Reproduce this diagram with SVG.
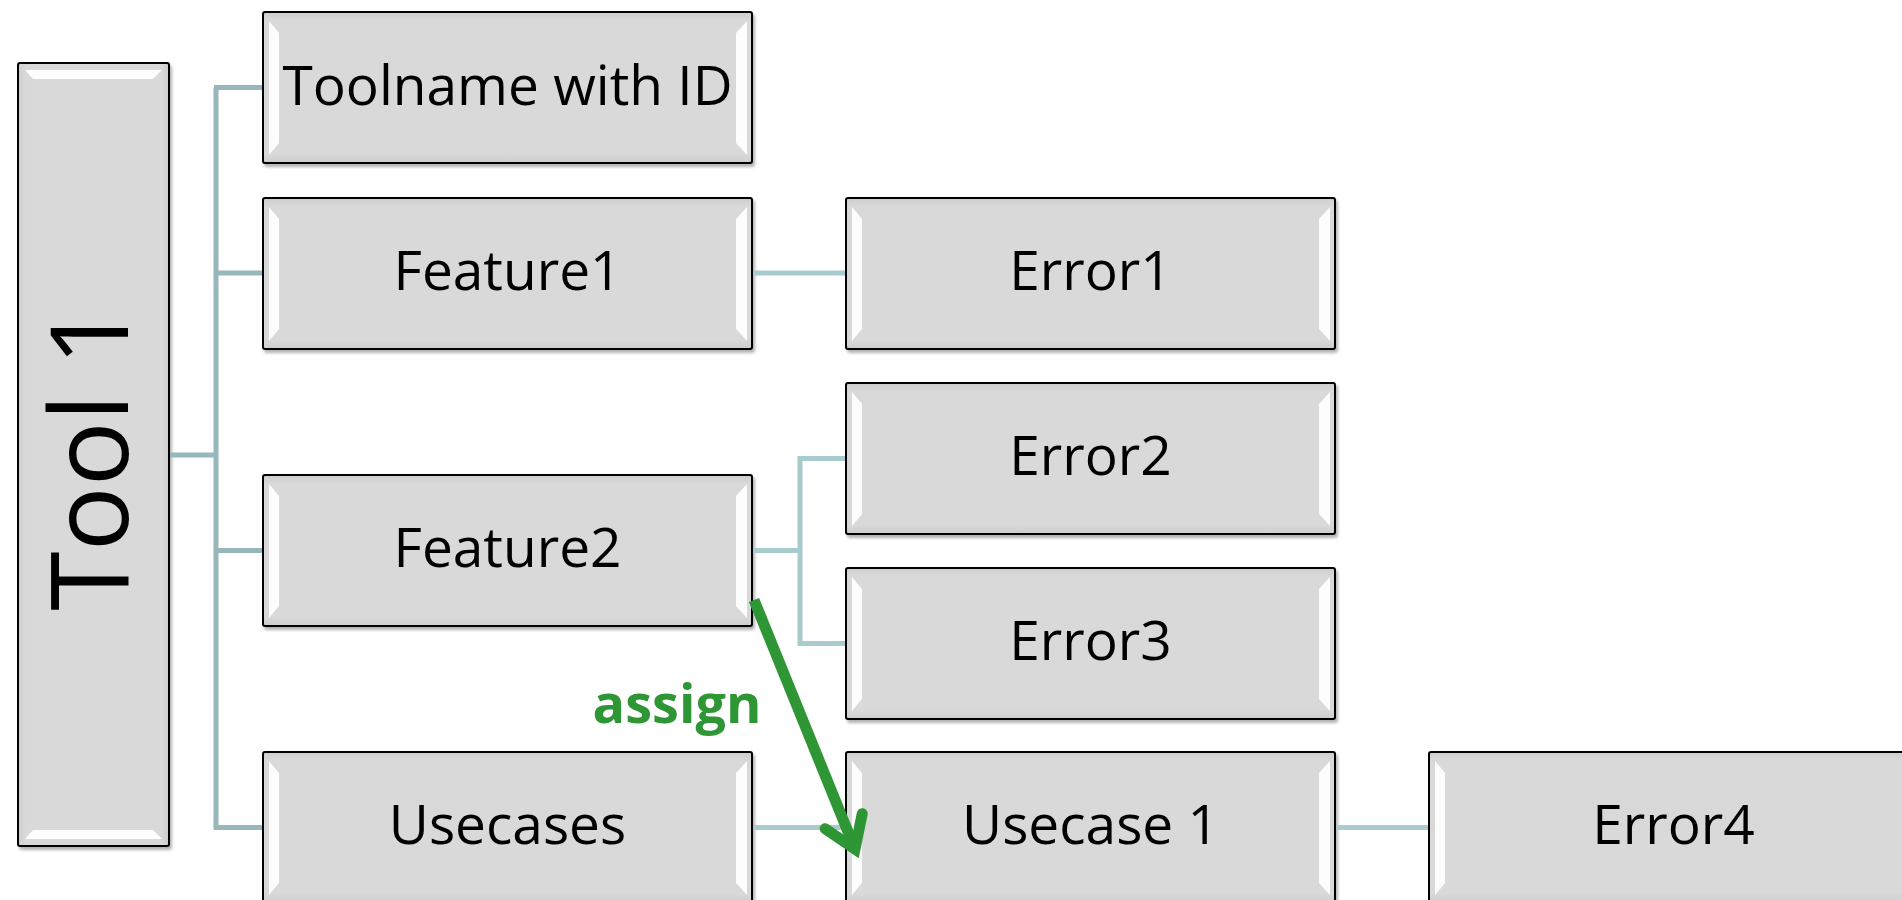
<svg xmlns="http://www.w3.org/2000/svg" width="1902" height="900" viewBox="0 0 1902 900">
  <defs>
    <linearGradient id="faceV" x1="0" y1="0" x2="0" y2="1">
      <stop offset="0" stop-color="#cdcdcd"/>
      <stop offset="0.06" stop-color="#d9d9d9"/>
      <stop offset="0.94" stop-color="#d9d9d9"/>
      <stop offset="1" stop-color="#cdcdcd"/>
    </linearGradient>
    <linearGradient id="faceH" x1="0" y1="0" x2="1" y2="0">
      <stop offset="0" stop-color="#cdcdcd"/>
      <stop offset="0.05" stop-color="#d9d9d9"/>
      <stop offset="0.95" stop-color="#d9d9d9"/>
      <stop offset="1" stop-color="#cdcdcd"/>
    </linearGradient>
    <filter id="shadow" x="-5%" y="-5%" width="115%" height="115%">
      <feGaussianBlur in="SourceAlpha" stdDeviation="1.6"/>
      <feOffset dx="2" dy="3" result="b"/>
      <feComponentTransfer><feFuncA type="linear" slope="0.3"/></feComponentTransfer>
      <feMerge><feMergeNode/><feMergeNode in="SourceGraphic"/></feMerge>
    </filter>
    <marker id="chevron" markerUnits="userSpaceOnUse" viewBox="-40 -30 50 60" refX="0" refY="0" markerWidth="50" markerHeight="60" orient="auto" overflow="visible">
      <path d="M-30,-20 L0,0 L-30,20" fill="none" stroke="#2e9634" stroke-width="11" stroke-linejoin="miter" stroke-linecap="round"/>
    </marker>
  </defs>
  <style>
    .box { fill: url(#faceV); stroke: #000; stroke-width: 2px; filter: url(#shadow); }
    .boxv { fill: url(#faceH); stroke: #000; stroke-width: 2px; filter: url(#shadow); }
    .hl { fill: #ffffff; opacity: 0.95; }
    .lbl { font-family: "Open Sans", Lato, "Liberation Sans", sans-serif; font-size: 55px; fill: #000; text-anchor: middle; }
    .big { font-size: 108px; }
    .c1 { stroke: #98b7bb; stroke-width: 5px; fill: none; }
    .c2 { stroke: #a8cbcd; stroke-width: 5px; fill: none; }
    .assign { stroke: #2e9634; stroke-width: 11px; fill: none; }
    .assign-lbl { font-family: "Open Sans", Lato, "Liberation Sans", sans-serif; font-size: 54px; font-weight: bold; fill: #2e9634; text-anchor: middle; }
  </style>

  <!-- root: Tool 1 -->
  <g id="tool1">
    <rect class="boxv" x="18" y="63" width="151" height="783" rx="2"/>
    <polygon class="hl" points="25,70 162,70 153,79 33,79"/>
    <polygon class="hl" points="25,839 162,839 153,830 33,830"/>
    <text class="lbl big" transform="translate(128,457.5) rotate(-90)" x="0" y="0">Tool 1</text>
  </g>

  <!-- level 1 -->
  <g id="toolname">
    <rect class="box" x="263" y="12" width="489" height="151" rx="2"/>
    <polygon class="hl" points="269,21 279,33 279,143 269,155"/>
    <polygon class="hl" points="747,21 736,33 736,143 747,155"/>
    <text class="lbl" x="507.5" y="105">Toolname with ID</text>
  </g>
  <g id="feature1">
    <rect class="box" x="263" y="198" width="489" height="151" rx="2"/>
    <polygon class="hl" points="269,207 279,219 279,329 269,341"/>
    <polygon class="hl" points="747,207 736,219 736,329 747,341"/>
    <text class="lbl" x="507.5" y="290">Feature1</text>
  </g>
  <g id="feature2">
    <rect class="box" x="263" y="475" width="489" height="151" rx="2"/>
    <polygon class="hl" points="269,484 279,496 279,606 269,618"/>
    <polygon class="hl" points="747,484 736,496 736,606 747,618"/>
    <text class="lbl" x="507.5" y="567">Feature2</text>
  </g>
  <g id="usecases">
    <rect class="box" x="263" y="752" width="489" height="151" rx="2"/>
    <polygon class="hl" points="269,761 279,773 279,883 269,895"/>
    <polygon class="hl" points="747,761 736,773 736,883 747,895"/>
    <text class="lbl" x="507.5" y="844">Usecases</text>
  </g>

  <!-- level 2 -->
  <g id="error1">
    <rect class="box" x="846" y="198" width="489" height="151" rx="2"/>
    <polygon class="hl" points="852,207 862,219 862,329 852,341"/>
    <polygon class="hl" points="1330,207 1319,219 1319,329 1330,341"/>
    <text class="lbl" x="1090.5" y="290">Error1</text>
  </g>
  <g id="error2">
    <rect class="box" x="846" y="383" width="489" height="151" rx="2"/>
    <polygon class="hl" points="852,392 862,404 862,514 852,526"/>
    <polygon class="hl" points="1330,392 1319,404 1319,514 1330,526"/>
    <text class="lbl" x="1090.5" y="475">Error2</text>
  </g>
  <g id="error3">
    <rect class="box" x="846" y="568" width="489" height="151" rx="2"/>
    <polygon class="hl" points="852,577 862,589 862,699 852,711"/>
    <polygon class="hl" points="1330,577 1319,589 1319,699 1330,711"/>
    <text class="lbl" x="1090.5" y="660">Error3</text>
  </g>
  <g id="usecase1">
    <rect class="box" x="846" y="752" width="489" height="151" rx="2"/>
    <polygon class="hl" points="852,761 862,773 862,883 852,895"/>
    <polygon class="hl" points="1330,761 1319,773 1319,883 1330,895"/>
    <text class="lbl" x="1090.5" y="844">Usecase 1</text>
  </g>

  <!-- level 3 -->
  <g id="error4">
    <rect class="box" x="1429" y="752" width="489" height="151" rx="2"/>
    <polygon class="hl" points="1435,761 1445,773 1445,883 1435,895"/>
    <text class="lbl" x="1673.5" y="844">Error4</text>
  </g>

  <!-- connectors (drawn last so the assign arrow sits on top of the boxes) -->
  <g id="connectors">
    <path class="c1" d="M170,455 H216 M216,87.5 V829.5 M214,87.5 H262 M214,273 H262 M214,550.5 H262 M214,827.5 H262"/>
    <path class="c2" d="M753,273 H845"/>
    <path class="c2" d="M753,550.5 H800 M800,456 V645.5 M798,458.5 H845 M798,643.5 H845"/>
    <path class="c2" d="M753,827.5 H845"/>
    <path class="c2" d="M1336,827.5 H1428"/>
    <path class="assign" d="M754,600 L855,849" marker-end="url(#chevron)"/>
    <text class="assign-lbl" x="677" y="723">assign</text>
  </g>
</svg>
